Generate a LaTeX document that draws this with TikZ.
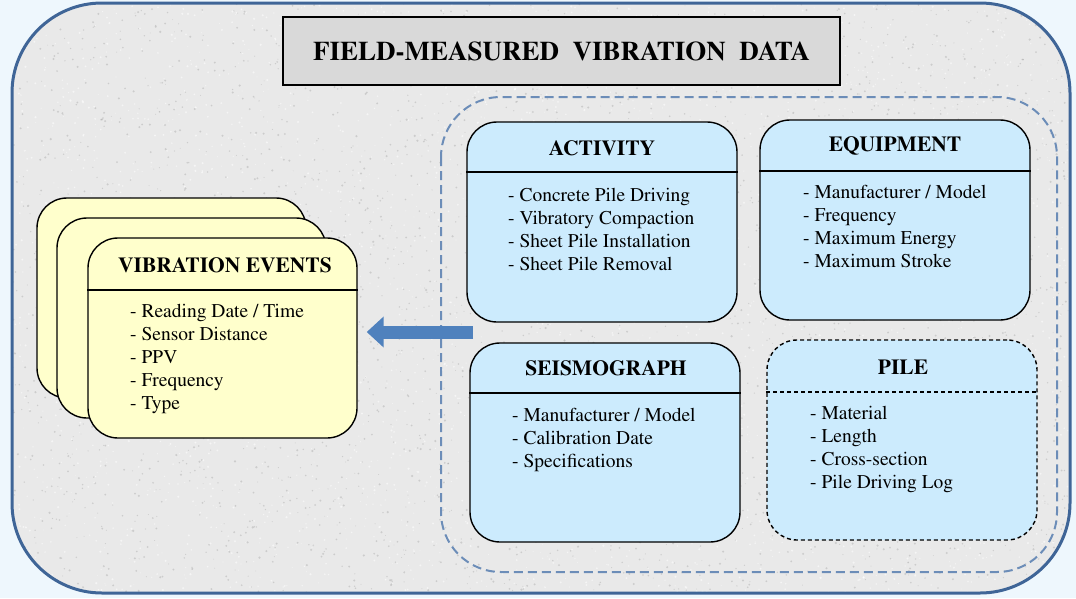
\documentclass[tikz,border=0pt]{standalone}
\usepackage[T1]{fontenc}
\renewcommand{\rmdefault}{ptm}
\renewcommand{\familydefault}{\rmdefault}
\usetikzlibrary{arrows.meta}

\definecolor{pagebg}{HTML}{EEF7FD}
\definecolor{panelgray}{HTML}{E9E9E9}
\definecolor{frameblue}{HTML}{3F6597}
\definecolor{dashblue}{HTML}{6C8DB8}
\definecolor{boxblue}{HTML}{CCEBFD}
\definecolor{cardyellow}{HTML}{FFFFCC}
\definecolor{arrowblue}{HTML}{4F81BD}
\definecolor{titlegray}{HTML}{D9D9D9}

\tikzset{
  bluebox/.style={draw=black, fill=boxblue, line width=1.4pt, rounded corners=30pt,
                  minimum width=270pt, minimum height=200pt, inner sep=0pt},
  dashbox/.style={bluebox, dash pattern=on 4pt off 3pt},
  card/.style={draw=black, fill=cardyellow, line width=1.4pt, rounded corners=30pt,
               minimum width=269pt, minimum height=200pt, inner sep=0pt},
  headline/.style={draw=black, line width=1.4pt},
  boxtitle/.style={font=\fontsize{21.5}{24}\selectfont\bfseries, inner sep=0pt},
  item/.style={font=\fontsize{19.5}{23}\selectfont, anchor=base west, inner sep=0pt},
  speckdark/.style={fill=black!45, opacity=0.30},
  specklight/.style={fill=white, opacity=0.55}
}

\begin{document}
\begin{tikzpicture}[x=1pt, y=-1pt]
\useasboundingbox (0,0) rectangle (1076,598);
\fill[pagebg] (0,0) rectangle (1076,598);

% textured panel
\fill[panelgray, rounded corners=90pt] (12,3) rectangle (1070,593);
\begin{scope}
  \clip[rounded corners=90pt] (12,3) rectangle (1070,593);
  \pgfmathsetseed{42}
  \foreach \k in {1,...,3200}{
    \pgfmathsetmacro\px{12+1058*rnd}
    \pgfmathsetmacro\py{3+590*rnd}
    \pgfmathsetmacro\pr{0.4+0.8*rnd}
    \fill[speckdark] (\px,\py) circle (\pr pt);
    \pgfmathsetmacro\qx{12+1058*rnd}
    \pgfmathsetmacro\qy{3+590*rnd}
    \fill[specklight] (\qx,\qy) circle (\pr pt);
  }
\end{scope}
\draw[frameblue, line width=3pt, rounded corners=90pt] (12,3) rectangle (1070,593);

% heading
\node[draw=black, fill=titlegray, line width=1.4pt, minimum width=557pt,
      minimum height=68pt, inner sep=0pt,
      font=\fontsize{27}{31}\selectfont\bfseries] (title) at (561.5,51)
  {FIELD-MEASURED\hspace{0.5em}VIBRATION\hspace{0.5em}DATA};

% group of source tables
\draw[dashblue, line width=2pt, dash pattern=on 9pt off 5pt, rounded corners=60pt]
  (441,97) rectangle (1057,572);

% ACTIVITY
\node[bluebox] (act) at (602,222) {};
\draw[headline] (act.west |- 0,172) -- (act.east |- 0,172);
\node[boxtitle] (act-t) at (602,148) {ACTIVITY};
\foreach \t [count=\i from 0] in {- Concrete Pile Driving, - Vibratory Compaction,
    - Sheet Pile Installation, - Sheet Pile Removal}
  \node[item] (act-\i) at (508,{201+23*\i}) {\t};

% EQUIPMENT
\node[bluebox] (eq) at (895,220) {};
\draw[headline] (eq.west |- 0,171) -- (eq.east |- 0,171);
\node[boxtitle] (eq-t) at (895,146) {EQUIPMENT};
\foreach \t [count=\i from 0] in {- Manufacturer / Model, - Frequency,
    - Maximum Energy, - Maximum Stroke}
  \node[item] (eq-\i) at (803,{198+23*\i}) {\t};

% SEISMOGRAPH
\node[bluebox, minimum height=199pt] (seis) at (605,442.5) {};
\draw[headline] (seis.west |- 0,393) -- (seis.east |- 0,393);
\node[boxtitle] (seis-t) at (606,368) {SEISMOGRAPH};
\foreach \t [count=\i from 0] in {- Manufacturer / Model, - Calibration Date,
    - Specifications}
  \node[item] (seis-\i) at (512,{421+23*\i}) {\t};

% PILE
\node[dashbox] (pile) at (902,440) {};
\draw[headline, dash pattern=on 4pt off 3pt] (pile.west |- 0,392) -- (pile.east |- 0,392);
\node[boxtitle] (pile-t) at (903,367) {PILE};
\foreach \t [count=\i from 0] in {- Material, - Length, - Cross-section,
    - Pile Driving Log}
  \node[item] (pile-\i) at (810,{419+23*\i}) {\t};

% stacked VIBRATION EVENTS cards
\node[card] (back) at (171.5,298) {};
\node[card] (mid) at (191.5,318) {};
\node[card] (front) at (222.5,338) {};
\draw[headline] (front.west |- 0,290) -- (front.east |- 0,290);
\node[boxtitle] (ve-t) at (225,265) {VIBRATION EVENTS};
\foreach \t [count=\i from 0] in {- Reading Date / Time, - Sensor Distance,
    - PPV, - Frequency, - Type}
  \node[item] (ve-\i) at (130,{317+23*\i}) {\t};

% data flow arrow
\coordinate (arrowTail) at (473,332);
\draw[arrowblue, line width=13pt, -{Triangle[width=30pt,length=17pt]}]
  (arrowTail) -- ([xshift=9pt]front.east |- arrowTail);
\end{tikzpicture}
\end{document}
